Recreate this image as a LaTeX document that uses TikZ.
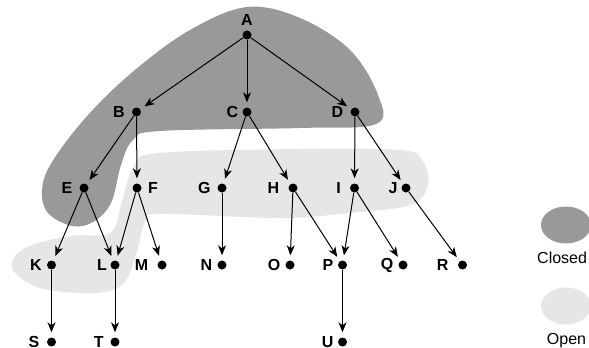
\documentclass[tikz,border=0pt]{standalone}
\usepackage{fontspec}
\setmainfont{Liberation Sans}
\usetikzlibrary{arrows.meta, shapes.geometric}

\definecolor{closedgray}{HTML}{999999}
\definecolor{opengray}{HTML}{E6E6E6}

\begin{document}
\begin{tikzpicture}[x=1pt, y=-1pt,
    dot/.style={circle, fill=black, inner sep=0pt, minimum size=9pt},
    lbl/.style={font=\fontsize{16}{18}\selectfont\bfseries, inner sep=1pt},
    edge/.style={-{Stealth[length=10pt, width=8pt, inset=3pt]}, line width=1pt, shorten >=5pt},
    keytext/.style={font=\fontsize{16}{18}\selectfont, anchor=base west, inner sep=0pt}]
    \useasboundingbox (0,0) rectangle (589,348);

    % Draw regions
    \fill[opengray] plot[smooth cycle, tension=0.6] coordinates {(160,153) (300,149) (400,150) (422,160) (428,185) (410,205) (350,213) (280,218) (160,214) (145,222) (136,255) (123,284) (95,293) (40,288) (12,268) (25,248) (70,236) (110,233) (121,205) (134,166)};
    \fill[closedgray] plot[smooth cycle, tension=0.6] coordinates {(247,7) (300,18) (350,50) (378,95) (376,124) (300,128) (160,131) (133,140) (121,165) (111,203) (93,222) (72,226) (48,213) (42,190) (52,162) (88,115) (135,70) (190,30)};

    % Draw nodes
    \node[dot, label={[lbl, label distance=4pt]above:A}] (A) at (247,35) {};
    \node[dot, label={[lbl, label distance=5.8pt]left:B}] (B) at (136.5,112) {};
    \node[dot, label={[lbl, label distance=2.8pt]left:C}] (C) at (247,112) {};
    \node[dot, label={[lbl, label distance=6pt]left:D}] (D) at (355,112) {};
    \node[dot, label={[lbl, label distance=5.8pt]left:E}] (E) at (84,188) {};
    \node[dot, label={[lbl, label distance=5.3pt]right:F}] (F) at (137,188) {};
    \node[dot, label={[lbl, label distance=5.5pt]left:G}] (G) at (222,188) {};
    \node[dot, label={[lbl, label distance=7.8pt]left:H}] (H) at (293,188) {};
    \node[dot, label={[lbl, label distance=7.8pt]left:I}] (I) at (354.5,188) {};
    \node[dot, label={[lbl, label distance=2.5pt]left:J}] (J) at (406,188) {};
    \node[dot, label={[lbl, label distance=3.8pt]left:K}] (K) at (51.5,265) {};
    \node[dot, label={[lbl, label distance=2.1pt]left:L}] (L) at (115,265) {};
    \node[dot, label={[lbl, label distance=7.8pt]left:M}] (M) at (162,265) {};
    \node[dot, label={[lbl, label distance=3.8pt]left:N}] (N) at (222,265) {};
    \node[dot, label={[lbl, label distance=3.8pt]left:O}] (O) at (290,265) {};
    \node[dot, label={[lbl, label distance=3.2pt]left:P}] (P) at (342.5,265) {};
    \node[dot, label={[lbl, label distance=3.8pt]left:Q}] (Q) at (403,265) {};
    \node[dot, label={[lbl, label distance=8.2pt]left:R}] (R) at (462.5,265) {};
    \node[dot, label={[lbl, label distance=6.3pt]left:S}] (S) at (51.5,342) {};
    \node[dot, label={[lbl, label distance=5.5pt]left:T}] (T) at (115,342) {};
    \node[dot, label={[lbl, label distance=3.2pt]left:U}] (U) at (342.5,342) {};

    % Draw connections
    \draw[edge] (A) -- (B);
    \draw[edge] (A) -- (C);
    \draw[edge] (A) -- (D);
    \draw[edge] (B) -- (E);
    \draw[edge] (B) -- (F);
    \draw[edge] (C) -- (G);
    \draw[edge] (C) -- (H);
    \draw[edge] (D) -- (I);
    \draw[edge] (D) -- (J);
    \draw[edge] (E) -- (K);
    \draw[edge] (E) -- (L);
    \draw[edge] (F) -- (L);
    \draw[edge] (F) -- (M);
    \draw[edge] (G) -- (N);
    \draw[edge] (H) -- (O);
    \draw[edge] (H) -- (P);
    \draw[edge] (I) -- (P);
    \draw[edge] (I) -- (Q);
    \draw[edge] (J) -- (R);
    \draw[edge] (K) -- (S);
    \draw[edge] (L) -- (T);
    \draw[edge] (P) -- (U);

    % Key
    \node[ellipse, fill=closedgray, minimum width=50pt, minimum height=37pt, inner sep=0pt] (closedkey) at (566,225) {};
    \node[ellipse, fill=opengray, minimum width=50pt, minimum height=37pt, inner sep=0pt] (openkey) at (566,306) {};
    \node[keytext] (closedtext) at (537,263.3) {Closed};
    \node[keytext] (opentext) at (546.7,344.3) {Open};
\end{tikzpicture}
\end{document}
